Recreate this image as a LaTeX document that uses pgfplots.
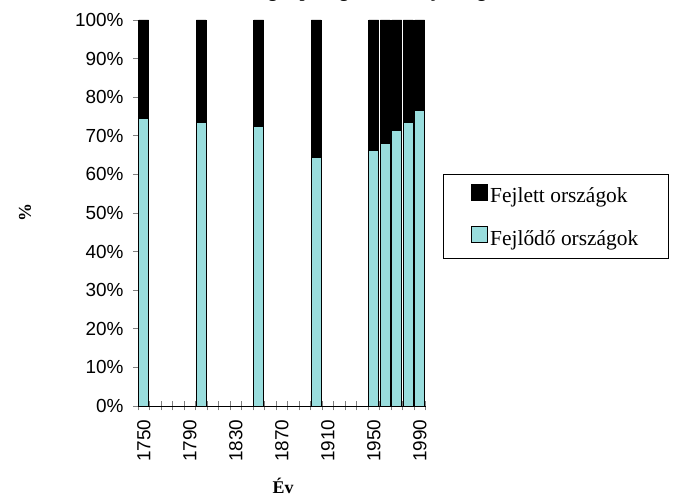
\documentclass[border=0pt]{standalone}
\usepackage{fontspec}
\setmainfont{Liberation Serif}
\newfontfamily\arial{Liberation Sans}
\usepackage{pgfplots}
\usepackage{pgfplotstable}
\pgfplotsset{compat=1.18}
\definecolor{fejlodo}{RGB}{153,221,221}

% x: category index (1750 = 0, step 10 years)
\pgfplotstableread{
x  ev   fejlodo fejlett
0  1750 74.6    25.4
5  1800 73.5    26.5
10 1850 72.5    27.5
15 1900 64.3    35.7
20 1950 66.2    33.8
21 1960 68.0    32.0
22 1970 71.3    28.7
23 1980 73.5    26.5
24 1990 76.5    23.5
}\adat

\begin{document}
\begin{tikzpicture}
  \begin{axis}
    [ at={(138bp,90bp)}
    , anchor=south west
    , scale only axis
    , width=287.5bp
    , height=386bp
    , ybar stacked
    , bar width=0.85
    , xmin=-0.5, xmax=24.5
    , ymin=0, ymax=100
    , axis x line*=bottom
    , axis y line*=left
    , axis line style={-, line width=0.8bp}
    , tick align=outside
    , major tick length=5bp
    , minor tick length=9bp
    , xtick={0,4,...,24}
    , xticklabels={1750,1790,1830,1870,1910,1950,1990}
    , minor xtick={-0.5,0.5,...,24.5}
    , major x tick style={draw=none}
    , minor x tick style={line width=0.8bp, yshift=4.5bp}
    , y tick style={line width=0.8bp}
    , ytick={0,10,...,100}
    , yticklabels={0\%,10\%,20\%,30\%,40\%,50\%,60\%,70\%,80\%,90\%,100\%}
    , ticklabel style={font=\arial\fontsize{19}{21}\selectfont}
    , xticklabel style={rotate=90, anchor=east}
    , xticklabel shift=5bp
    , yticklabel style={xshift=-6bp}
    , reverse legend
    , legend style={
        at={(1.0609,0.491)}, anchor=west,
        draw=black, line width=0.8bp,
        font=\fontsize{21.5}{25}\selectfont,
        inner xsep=28bp, inner ysep=9bp,
        row sep=20bp}
    , legend cell align=left
    , legend image code/.code={%
        \draw[#1, line width=0.8bp] (0bp,-4bp) rectangle (16bp,12bp);}
    ]
    \addplot[fill=fejlodo, draw=black, line width=0.8bp] table[x=x, y=fejlodo] {\adat};
    \addplot[fill=black, draw=black, line width=0.8bp] table[x=x, y=fejlett] {\adat};
    \legend{Fejlődő országok, Fejlett országok}
  \end{axis}
  \node[font=\bfseries\fontsize{18}{20}\selectfont, anchor=base] at (341bp,498bp)
    {Az eloszlás a világ népességén belül, fejlettség szerint};
  \node[font=\bfseries\fontsize{18}{20}\selectfont, rotate=90] at (25bp,283bp) {\%};
  \node[font=\bfseries\fontsize{18}{20}\selectfont, anchor=base] at (283bp,3bp) {Év};
  \pgfresetboundingbox
  \useasboundingbox (0bp,0bp) rectangle (682bp,496bp);
\end{tikzpicture}
\end{document}
